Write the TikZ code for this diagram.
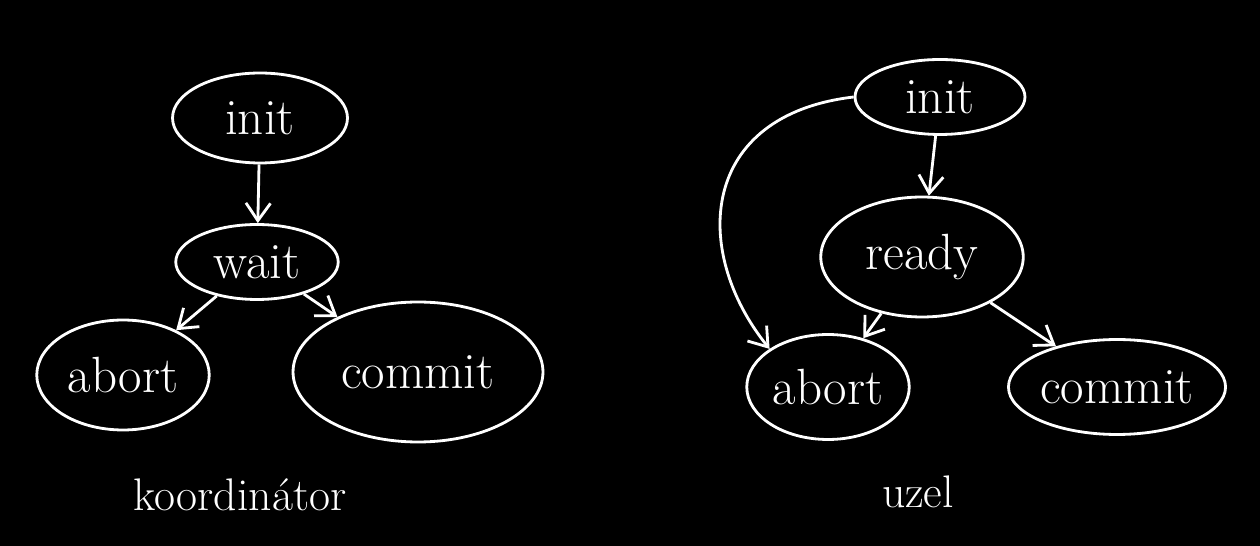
\documentclass[tikz,border=0pt]{standalone}
\usetikzlibrary{arrows.meta,shapes.geometric}
\begin{document}
\begin{tikzpicture}[x=0.02cm,y=-0.02cm,
  line width=1.6pt,
  state/.style={draw=white,ellipse,inner sep=0pt,text=white,font=\fontsize{29}{31}\selectfont},
  conn/.style={draw=white,-{Straight Barb[length=10pt,width=14pt]}},
  caption/.style={text=white,font=\fontsize{26}{28}\selectfont}]
\fill[black] (0,0) rectangle (1260,546);
\useasboundingbox (0,0) rectangle (1260,546);
% left: koordinator
\node[state,minimum width=3.5cm,minimum height=1.8cm] (li) at (260,118) {init};
\node[state,minimum width=3.25cm,minimum height=1.5cm] (lw) at (257,262) {wait};
\node[state,minimum width=3.45cm,minimum height=2.2cm] (la) at (123,375) {abort};
\node[state,minimum width=5.0cm,minimum height=2.8cm] (lc) at (418,372) {commit};
\node[caption] (lk) at (240,495) {koordinátor};
\draw[conn] (li) -- (lw);
\draw[conn] (lw) -- (la);
\draw[conn] (lw) -- (lc);
% right: uzel
\node[state,minimum width=3.4cm,minimum height=1.5cm] (ri) at (940,97) {init};
\node[state,minimum width=4.05cm,minimum height=2.4cm] (rr) at (922,257) {ready};
\node[state,minimum width=3.25cm,minimum height=2.1cm] (ra) at (828,387) {abort};
\node[state,minimum width=4.05cm,minimum height=1.9cm] (rc) at (1117,387) {commit};
\node[caption] (ru) at (918,492) {uzel};
\draw[conn] (ri) -- (rr);
\draw[conn] (rr) -- (ra);
\draw[conn] (rr) -- (rc);
\draw[conn] (ri.west) .. controls (700,115) and (690,250) .. (ra.north west);
\end{tikzpicture}
\end{document}
